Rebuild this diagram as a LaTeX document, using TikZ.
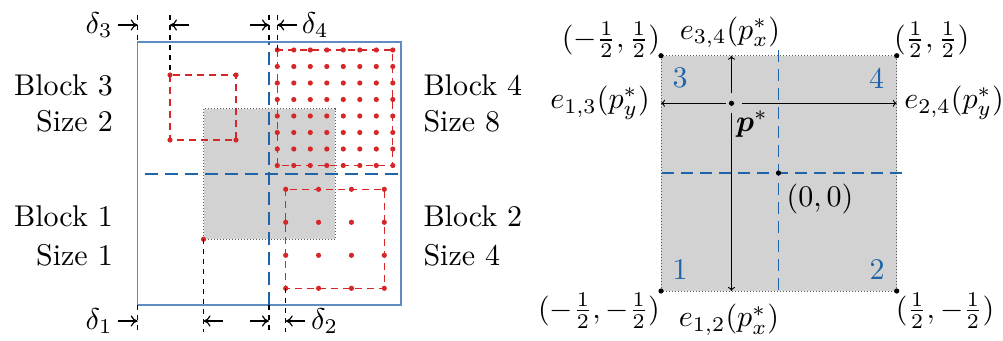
\documentclass[tikz,border=0pt]{standalone}
\usepackage{graphicx}
\usepackage{amsmath,bm}
\usetikzlibrary{arrows.meta}
\definecolor{cblue}{RGB}{31,100,170}
\definecolor{crect}{RGB}{95,140,195}
\definecolor{cred}{RGB}{214,39,40}
\definecolor{cgray}{RGB}{210,210,210}
\newcommand{\bigtxt}[1]{\scalebox{3}{#1}}
\begin{document}
\begin{tikzpicture}[x=1pt,y=-1pt,
  txt/.style={inner sep=0pt},
  blk/.style={draw=crect, line width=1.5pt},
  bdash/.style={draw=cblue, line width=1.5pt, dash pattern=on 13pt off 7pt},
  bdashthin/.style={draw=cblue, line width=1.1pt, dash pattern=on 12pt off 7pt},
  kdash/.style={draw=black, line width=1.3pt, dash pattern=on 5pt off 5pt},
  rdash/.style={draw=cred, line width=1.2pt, dash pattern=on 7pt off 5pt},
  darr/.style={-{To[length=7pt,width=11pt]}, line width=1.2pt},
  sarr/.style={-{To[length=4pt,width=7pt]}, line width=0.9pt, shorten <=10pt},
  graybox/.style={fill=cgray, draw=black!65, line width=0.8pt, dash pattern=on 0.8pt off 2.2pt},
  dotr/.style={fill=cred},
  dotk/.style={fill=black}]
\useasboundingbox (0,0) rectangle (1003,340);

% ---------------- left picture ----------------
\path[graybox] (203.5,108.5) rectangle (335,239.3);
\draw[blk] (137.7,42) rectangle (401,305);
\draw[bdash] (145,174) -- (401,174);
\draw[bdash] (269,305) -- (269,42);

% block 3 (size 2)
\draw[rdash] (170,75) rectangle (236,140);
\foreach \i in {0,1} \foreach \j in {0,1}
  \fill[dotr] (170+66*\i,75+65*\j) circle (2.6);
% block 4 (size 8)
\draw[rdash] (277.3,50) rectangle (392.8,165.5);
\foreach \i in {0,...,7} \foreach \j in {0,...,7}
  \fill[dotr] (277.3+16.5*\i,50+16.5*\j) circle (2.6);
% block 2 (size 4)
\draw[rdash] (285.7,189.3) rectangle (384.3,288.3);
\foreach \i in {0,...,3} \foreach \j in {0,...,3}
  \fill[dotr] (285.7+32.87*\i,189.3+33*\j) circle (2.6);
% block 1 (size 1)
\fill[dotr] (203.5,239.3) circle (2.6);

% black dashed markers
\draw[kdash] (137.7,15) -- (137.7,42);
\draw[kdash] (137.7,305) -- (137.7,332);
\draw[kdash] (170,15) -- (170,75);
\draw[kdash] (269,15) -- (269,42);
\draw[kdash] (269,305) -- (269,332);
\draw[kdash] (277.3,15) -- (277.3,50);
\draw[kdash] (203.5,239.3) -- (203.5,332);
\draw[kdash] (285.7,288.3) -- (285.7,332);

% top arrows
\coordinate (ta1) at (117.7,25); \coordinate (tb1) at (137.7,25);
\coordinate (ta2) at (189,25);   \coordinate (tb2) at (170,25);
\coordinate (ta3) at (250,25);   \coordinate (tb3) at (269,25);
\coordinate (ta4) at (296.7,25); \coordinate (tb4) at (277.3,25);
\draw[darr] (ta1) -- (tb1);
\draw[darr] (ta2) -- (tb2);
\draw[darr] (ta3) -- (tb3);
\draw[darr] (ta4) -- (tb4);
% bottom arrows
\coordinate (ba1) at (117.7,321); \coordinate (bb1) at (137.7,321);
\coordinate (ba2) at (222.7,321); \coordinate (bb2) at (203.5,321);
\coordinate (ba3) at (250,321);   \coordinate (bb3) at (269,321);
\coordinate (ba4) at (305,321);   \coordinate (bb4) at (285.7,321);
\draw[darr] (ba1) -- (bb1);
\draw[darr] (ba2) -- (bb2);
\draw[darr] (ba3) -- (bb3);
\draw[darr] (ba4) -- (bb4);

\node[txt, anchor=east, inner sep=5pt] (d3) at (ta1) {\bigtxt{$\delta_3$}};
\node[txt, anchor=west, inner sep=5pt] (d4) at (ta4) {\bigtxt{$\delta_4$}};
\node[txt, anchor=east, inner sep=5pt] (d1) at (ba1) {\bigtxt{$\delta_1$}};
\node[txt, anchor=west, inner sep=6pt] (d2) at (ba4) {\bigtxt{$\delta_2$}};

\node[txt, anchor=base east] (b3) at (113,95) {\bigtxt{Block 3}};
\node[txt, anchor=base east] (s3) at (113,131.7) {\bigtxt{Size 2}};
\node[txt, anchor=base east] (b1) at (113,226.7) {\bigtxt{Block 1}};
\node[txt, anchor=base east] (s1) at (113,265) {\bigtxt{Size 1}};
\node[txt, anchor=base west] (b4) at (423.3,95) {\bigtxt{Block 4}};
\node[txt, anchor=base west] (s4) at (423.3,131.7) {\bigtxt{Size 8}};
\node[txt, anchor=base west] (b2) at (423.3,226.7) {\bigtxt{Block 2}};
\node[txt, anchor=base west] (s2) at (423.3,265) {\bigtxt{Size 4}};

% ---------------- right picture ----------------
\path[graybox] (661,55.7) rectangle (896.7,291);
\draw[bdashthin] (778.5,50) -- (778.5,296.7);
\draw[bdashthin] (901.7,173) -- (655,173);

\coordinate (c1) at (661,291);
\coordinate (c2) at (896.7,291);
\coordinate (c3) at (661,55.7);
\coordinate (c4) at (896.7,55.7);
\coordinate (o) at (778.5,173);
\coordinate (p) at (731.5,103.3);
\coordinate (et) at (731.5,55.7);
\coordinate (eb) at (731.5,291);
\coordinate (el) at (661,103.3);
\coordinate (er) at (896.7,103.3);
\foreach \c in {c1,c2,c3,c4,o,p} \fill[dotk] (\c) circle (2.6);

\draw[sarr] (p) -- (et);
\draw[sarr] (p) -- (eb);
\draw[sarr, shorten <=6pt] (p) -- (el);
\draw[sarr] (p) -- (er);

\node[txt, text=cblue] (n3) at (680,78) {\bigtxt{3}};
\node[txt, text=cblue] (n4) at (876.7,78) {\bigtxt{4}};
\node[txt, text=cblue] (n1) at (680,270) {\bigtxt{1}};
\node[txt, text=cblue] (n2) at (877,270) {\bigtxt{2}};

\node[txt] (lp) at (752,124) {\bigtxt{$\bm{p}^*$}};
\node[txt] (l34) at (730,32.5) {\bigtxt{$e_{3,4}(p_x^*)$}};
\node[txt] (l13) at (600,103) {\bigtxt{$e_{1,3}(p_y^*)$}};
\node[txt] (l24) at (954,103) {\bigtxt{$e_{2,4}(p_y^*)$}};
\node[txt] (l12) at (729,320) {\bigtxt{$e_{1,2}(p_x^*)$}};
\node[txt] (l00) at (820,199) {\bigtxt{$(0,0)$}};
\node[txt] (lc3) at (611,40) {\bigtxt{$(-\frac{1}{2},\frac{1}{2})$}};
\node[txt] (lc4) at (931.7,40) {\bigtxt{$(\frac{1}{2},\frac{1}{2})$}};
\node[txt] (lc1) at (599,310.5) {\bigtxt{$(-\frac{1}{2},-\frac{1}{2})$}};
\node[txt] (lc2) at (945,310.5) {\bigtxt{$(\frac{1}{2},-\frac{1}{2})$}};
\end{tikzpicture}
\end{document}
